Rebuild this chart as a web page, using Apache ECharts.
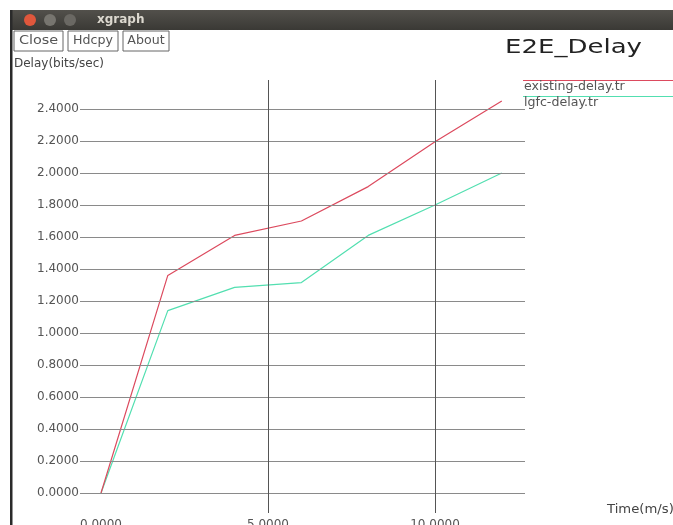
<!DOCTYPE html>
<html>
<head>
<meta charset="utf-8">
<script src="https://cdn.jsdelivr.net/npm/echarts@6/dist/echarts.min.js"></script>
<style>html,body{margin:0;padding:0;background:#fff;}#c{width:673px;height:525px;}</style>
</head>
<body>
<div id="c"></div>
<script>
// ---- data ----
var timeValues = [0, 2, 4, 6, 8, 10, 12];
var existingDelay = [0, 1.36, 1.61, 1.70, 1.915, 2.195, 2.45];
var lgfcDelay = [0, 1.14, 1.285, 1.315, 1.61, 1.80, 2.0];
var seriesNames = ['existing-delay.tr', 'lgfc-delay.tr'];
var yTicks = [0, 0.2, 0.4, 0.6, 0.8, 1.0, 1.2, 1.4, 1.6, 1.8, 2.0, 2.2, 2.4];
var xTicks = [0, 5, 10];
var xGridValues = [5, 10];

function pairs(xs, ys) { return xs.map(function (x, i) { return [x, ys[i]]; }); }

var chart = echarts.init(document.getElementById('c'), null, { renderer: 'canvas' });

var gridMarks = yTicks.map(function (v) { return { yAxis: v, lineStyle: { color: '#8a8a8a' } }; })
  .concat(xGridValues.map(function (v) { return { xAxis: v, lineStyle: { color: '#555' } }; }));

var option = {
  backgroundColor: '#ffffff',
  animation: false,
  grid: { left: 80, top: 80, width: 445, height: 433, containLabel: false, outerBoundsMode: 'none' },
  xAxis: {
    type: 'value', min: -0.629, max: 12.695,
    axisLine: { show: false }, axisTick: { show: false }, splitLine: { show: false },
    axisLabel: {
      customValues: xTicks, margin: 6, color: '#555', fontFamily: 'DejaVu Sans', fontSize: 12,
      hideOverlap: false,
      formatter: function (v) { return v.toFixed(4); }
    }
  },
  yAxis: {
    type: 'value', min: -0.125, max: 2.58125,
    axisLine: { show: false }, axisTick: { show: false }, splitLine: { show: false },
    axisLabel: {
      customValues: yTicks, margin: 1, color: '#555', fontFamily: 'DejaVu Sans', fontSize: 12,
      formatter: function (v) { return v.toFixed(4); }
    }
  },
  series: [
    {
      type: 'line', name: 'grid', data: [], z: 1, silent: true,
      markLine: {
        silent: true, symbol: ['none', 'none'], label: { show: false },
        lineStyle: { type: 'solid', width: 1 },
        data: gridMarks
      }
    },
    {
      type: 'line', name: seriesNames[0], data: pairs(timeValues, existingDelay), z: 3,
      showSymbol: false, lineStyle: { color: '#dc4a5e', width: 1.2 }, itemStyle: { color: '#dc4a5e' }
    },
    {
      type: 'line', name: seriesNames[1], data: pairs(timeValues, lgfcDelay), z: 2,
      showSymbol: false, lineStyle: { color: '#52dfb0', width: 1.2 }, itemStyle: { color: '#52dfb0' }
    }
  ],
  graphic: [
    // window title bar
    { type: 'rect', shape: { x: 10, y: 10, width: 663, height: 20 },
      style: { fill: new echarts.graphic.LinearGradient(0, 0, 0, 1, [{ offset: 0, color: '#52504b' }, { offset: 1, color: '#3a3935' }]) } },
    { type: 'circle', shape: { cx: 30, cy: 20, r: 6 }, style: { fill: '#e0573c' } },
    { type: 'circle', shape: { cx: 50, cy: 20, r: 6 }, style: { fill: '#77756f' } },
    { type: 'circle', shape: { cx: 70, cy: 20, r: 6 }, style: { fill: '#6a6863' } },
    { type: 'text', x: 97, y: 20, style: { text: 'xgraph', fill: '#dcd8cf', font: 'bold 12px "DejaVu Sans"', verticalAlign: 'middle' } },
    // left border
    { type: 'rect', shape: { x: 10, y: 10, width: 2.5, height: 515 }, style: { fill: '#2a2a2a' } },
    // buttons
    { type: 'rect', shape: { x: 14, y: 31, width: 49, height: 20 }, style: { fill: '#fff', stroke: '#666', lineWidth: 1 } },
    { type: 'text', x: 38.5, y: 41, scaleX: 1.2, style: { text: 'Close', fill: '#555', font: '12px "DejaVu Sans"', align: 'center', verticalAlign: 'middle' } },
    { type: 'rect', shape: { x: 68, y: 31, width: 50, height: 20 }, style: { fill: '#fff', stroke: '#666', lineWidth: 1 } },
    { type: 'text', x: 93, y: 41, scaleX: 1.05, style: { text: 'Hdcpy', fill: '#555', font: '12px "DejaVu Sans"', align: 'center', verticalAlign: 'middle' } },
    { type: 'rect', shape: { x: 123, y: 31, width: 46, height: 20 }, style: { fill: '#fff', stroke: '#666', lineWidth: 1 } },
    { type: 'text', x: 146, y: 41, scaleX: 1.05, style: { text: 'About', fill: '#555', font: '12px "DejaVu Sans"', align: 'center', verticalAlign: 'middle' } },
    // axis titles and chart title
    { type: 'text', x: 14, y: 64, style: { text: 'Delay(bits/sec)', fill: '#444', font: '12px "DejaVu Sans"', verticalAlign: 'middle' } },
    { type: 'text', x: 505, y: 48, scaleX: 1.3, style: { text: 'E2E_Delay', fill: '#222', font: '20px "DejaVu Sans"', verticalAlign: 'middle' } },
    { type: 'text', x: 607, y: 510, scaleX: 1.1, style: { text: 'Time(m/s)', fill: '#444', font: '12px "DejaVu Sans"', verticalAlign: 'middle' } },
    // legend
    { type: 'line', shape: { x1: 523, y1: 80.5, x2: 673, y2: 80.5 }, style: { stroke: '#dc4a5e', lineWidth: 1 } },
    { type: 'text', x: 524, y: 87, scaleX: 1.05, style: { text: seriesNames[0], fill: '#555', font: '12px "DejaVu Sans"', verticalAlign: 'middle' } },
    { type: 'line', shape: { x1: 523, y1: 96.5, x2: 673, y2: 96.5 }, style: { stroke: '#52dfb0', lineWidth: 1 } },
    { type: 'text', x: 524, y: 103, scaleX: 1.05, style: { text: seriesNames[1], fill: '#555', font: '12px "DejaVu Sans"', verticalAlign: 'middle' } }
  ]
};
chart.setOption(option);
</script>
</body>
</html>
